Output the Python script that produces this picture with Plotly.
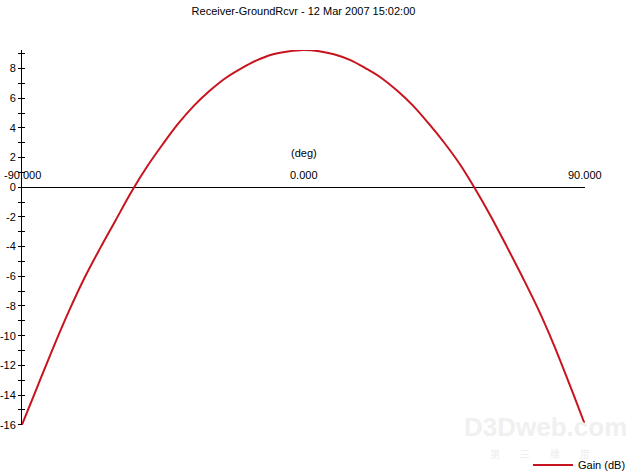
import plotly.graph_objects as go

angles = [-90, -85, -80, -75, -70, -65, -60, -55, -50, -45, -40, -35, -30, -25, -20, -15, -10, -5,
          0, 5, 10, 15, 20, 25, 30, 35, 40, 45, 50, 55, 60, 65, 70, 75, 80, 85, 90]
gain_db = [-16.0, -13.4, -10.8, -8.35, -6.1, -4.1, -2.2, -0.3, 1.4, 2.9, 4.3, 5.5, 6.5, 7.35, 8.0, 8.55, 8.95, 9.15,
           9.25, 9.17, 8.95, 8.57, 8.0, 7.35, 6.5, 5.5, 4.3, 3.0, 1.55, -0.15, -2.0, -4.0, -6.05, -8.2, -10.6, -13.25, -16.0]
x_tick_vals = [-90, 0, 90]
x_tick_text = ["-90.000", "0.000", "90.000"]
y_tick_vals = list(range(-16, 10))
y_tick_text = [str(v) if v % 2 == 0 and v <= 8 else "" for v in y_tick_vals]
title_text = "Receiver-GroundRcvr - 12 Mar 2007 15:02:00"
x_title = "(deg)"
series_name = "Gain (dB)"

FONT = "Liberation Sans, Arial, sans-serif"
W, H = 633, 476
ML, MR, MT, MB = 22, 48, 50, 51
PW, PH = W - ML - MR, H - MT - MB


def px_x(px):
    return (px - ML) / PW


def px_y(py):
    return (H - MB - py) / PH


fig = go.Figure()
fig.add_trace(go.Scatter(x=angles, y=gain_db, mode="lines", name=series_name,
                         line=dict(color="#c8141e", width=2, shape="spline", smoothing=1.0)))

yrange = [-16.02, 9.25]
fig.update_layout(
    width=W, height=H,
    margin=dict(l=ML, r=MR, t=MT, b=MB, autoexpand=False),
    paper_bgcolor="white", plot_bgcolor="white",
    font=dict(family=FONT, size=11, color="black"),
    title=dict(text=title_text, x=0.5, xref="paper", xanchor="center", y=1 - 11 / H, yanchor="middle",
               yref="container", font=dict(family=FONT, size=11, color="black")),
    showlegend=True,
    legend=dict(x=px_x(631), xanchor="right", y=px_y(465), yanchor="middle",
                bgcolor="rgba(0,0,0,0)", font=dict(family=FONT, size=11, color="black"),
                itemwidth=40),
    xaxis=dict(range=[-90, 90], showgrid=False, zeroline=False, showline=False,
               showticklabels=False, ticks="", automargin=False),
    yaxis=dict(range=yrange, showgrid=False, zeroline=True, zerolinecolor="black", zerolinewidth=1,
               showline=True, linecolor="black", linewidth=1, automargin=False,
               tickmode="array", tickvals=y_tick_vals, ticktext=y_tick_text,
               ticks="outside", ticklen=3, tickcolor="black", tickwidth=1,
               tickfont=dict(family=FONT, size=11, color="black")),
    yaxis2=dict(range=yrange, overlaying="y", anchor="x", side="left", matches="y",
                showgrid=False, zeroline=False, showline=False, showticklabels=False, automargin=False,
                tickmode="array", tickvals=y_tick_vals,
                ticks="inside", ticklen=3, tickcolor="black", tickwidth=1),
)

# invisible trace on the overlay axis so its ticks are drawn
fig.add_trace(go.Scatter(x=angles, y=gain_db, yaxis="y2", mode="lines", line=dict(width=0),
                         opacity=0, showlegend=False, hoverinfo="skip"))

for xv, xt in zip(x_tick_vals, x_tick_text):
    fig.add_annotation(x=xv, y=0, xref="x", yref="y", text=xt, showarrow=False,
                       yanchor="bottom", yshift=4, font=dict(family=FONT, size=11, color="black"))
fig.add_annotation(x=0, y=0, xref="x", yref="y", text=x_title, showarrow=False,
                   yanchor="bottom", yshift=26, font=dict(family=FONT, size=11, color="black"))

# faint watermark
fig.add_annotation(x=px_x(545), y=px_y(427), xref="paper", yref="paper", text="<b>D3Dweb.com</b>",
                   xanchor="center", yanchor="middle", showarrow=False,
                   font=dict(family="Liberation Sans, sans-serif", size=26, color="#f0f0f0"))
fig.add_annotation(x=px_x(540), y=px_y(453), xref="paper", yref="paper", text="第　　三　　维　　度",
                   xanchor="center", yanchor="middle", showarrow=False,
                   font=dict(family="Noto Sans CJK SC", size=10, color="#eeeeee"))

fig.write_html("out.html", config={"displayModeBar": False},
               post_script="document.body.style.margin='0';document.body.style.overflow='hidden';")
